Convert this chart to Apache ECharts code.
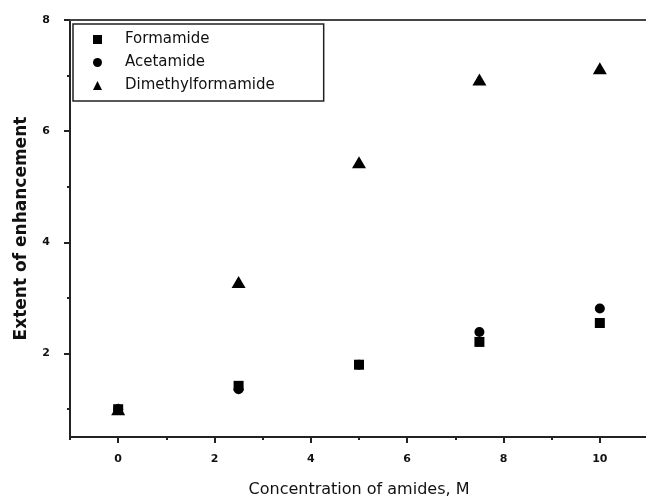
<!DOCTYPE html>
<html lang="en">
<head>
    <meta charset="UTF-8">
    <script src="https://cdnjs.cloudflare.com/ajax/libs/echarts/6.0.0/echarts.min.js"></script>
    <title>Extent of enhancement</title>
</head>
<body style="margin:0">

<div id="chart" style="width: 646px;height: 498px"></div>

<script type="text/javascript">
    // concentration of amides (M)
    var conc = [0, 2.5, 5, 7.5, 10]

    var formamide = [1.0, 1.42, 1.80, 2.21, 2.55]
    var acetamide = [1.0, 1.36, 1.80, 2.39, 2.81]
    var dmf = [1.0, 3.29, 5.44, 6.93, 7.13]

    var xMajor = [0, 2, 4, 6, 8, 10]
    var xMinor = [-1, 1, 3, 5, 7, 9]
    var yMajor = [2, 4, 6, 8]
    var yMinor = [1, 3, 5, 7]

    function pairs(ys) {
        return conc.map(function (x, i) { return [x, ys[i]] })
    }

    var font = 'DejaVu Sans, Liberation Sans, sans-serif'
    var lineCol = '#222'

    var myChart = echarts.init(document.getElementById('chart'));
    var option = {
        animation: false,
        backgroundColor: '#fff',
        grid: {left: 70, top: 20, right: -2, bottom: 61, outerBoundsMode: 'none', containLabel: false},
        legend: {
            orient: 'vertical',
            left: 73, top: 24,
            padding: [8, 49, 8, 20],
            itemGap: 8,
            itemWidth: 9, itemHeight: 9,
            borderColor: lineCol, borderWidth: 1.5,
            textStyle: {fontFamily: font, fontSize: 15, color: '#111', padding: [0, 0, 0, 18]},
            data: [
                {name: 'Formamide', icon: 'rect'},
                {name: 'Acetamide', icon: 'circle'},
                {name: 'Dimethylformamide', icon: 'triangle'}
            ]
        },
        xAxis: [{
            type: 'value', min: -1, max: 11,
            position: 'bottom',
            name: 'Concentration of amides, M',
            nameLocation: 'middle', nameGap: 45,
            nameTextStyle: {fontFamily: font, fontSize: 16, color: '#111'},
            splitLine: {show: false},
            axisLine: {onZero: false, lineStyle: {color: lineCol, width: 2}},
            axisTick: {customValues: xMajor, length: 6, lineStyle: {color: lineCol, width: 2}},
            axisLabel: {customValues: xMajor, fontFamily: font, fontSize: 11, fontWeight: 'bold', color: '#111', margin: 17}
        }, {
            type: 'value', min: -1, max: 11,
            position: 'bottom',
            splitLine: {show: false},
            axisLine: {show: false, onZero: false},
            axisTick: {customValues: xMinor, length: 3, lineStyle: {color: lineCol, width: 2}},
            axisLabel: {show: false}
        }, {
            type: 'value', min: -1, max: 11,
            position: 'top',
            splitLine: {show: false},
            axisLine: {onZero: false, lineStyle: {color: '#444', width: 2}},
            axisTick: {show: false},
            axisLabel: {show: false}
        }],
        yAxis: [{
            type: 'value', min: 0.5, max: 8,
            position: 'left',
            name: 'Extent of enhancement',
            nameLocation: 'middle', nameGap: 40,
            nameTextStyle: {fontFamily: font, fontSize: 17, fontWeight: 'bold', color: '#111'},
            splitLine: {show: false},
            axisLine: {onZero: false, lineStyle: {color: lineCol, width: 2}},
            axisTick: {customValues: yMajor, length: 6, lineStyle: {color: lineCol, width: 2}},
            axisLabel: {customValues: yMajor, fontFamily: font, fontSize: 11, fontWeight: 'bold', color: '#111', margin: 20}
        }, {
            type: 'value', min: 0.5, max: 8,
            position: 'left',
            splitLine: {show: false},
            axisLine: {show: false, onZero: false},
            axisTick: {customValues: yMinor, length: 3, lineStyle: {color: lineCol, width: 2}},
            axisLabel: {show: false}
        }],
        series: [
            {
                name: 'Formamide', type: 'scatter', symbol: 'rect', symbolSize: 10,
                itemStyle: {color: '#000', opacity: 1}, data: pairs(formamide)
            },
            {
                name: 'Acetamide', type: 'scatter', symbol: 'circle', symbolSize: 10,
                itemStyle: {color: '#000', opacity: 1}, data: pairs(acetamide)
            },
            {
                name: 'Dimethylformamide', type: 'scatter', symbol: 'triangle', symbolSize: [14, 12],
                itemStyle: {color: '#000', opacity: 1}, data: pairs(dmf)
            }
        ]
    };
    myChart.setOption(option);
</script>
</body>
</html>
